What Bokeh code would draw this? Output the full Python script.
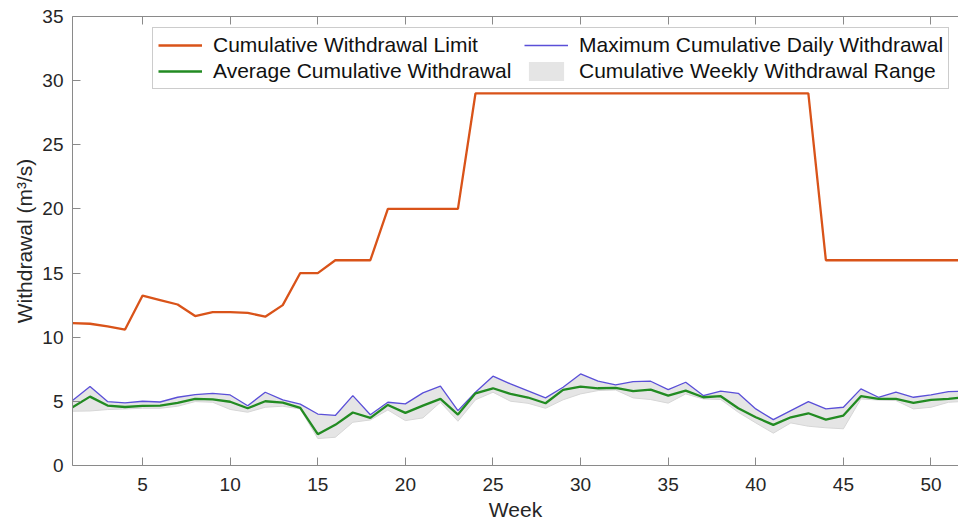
from bokeh.plotting import figure
from bokeh.models import FixedTicker, LinearAxis, Legend, LegendItem, Range1d
from bokeh.embed import file_html
from bokeh.resources import INLINE

weeks = list(range(1, 53))
limit = [11.1, 11.05, 10.85, 10.6, 13.25, 12.9, 12.55, 11.65, 11.95, 11.95,
         11.9, 11.6, 12.5, 15.0, 15.0, 16.0, 16.0, 16.0, 20.0, 20.0,
         20.0, 20.0, 20.0, 29.0, 29.0, 29.0, 29.0, 29.0, 29.0, 29.0,
         29.0, 29.0, 29.0, 29.0, 29.0, 29.0, 29.0, 29.0, 29.0, 29.0,
         29.0, 29.0, 29.0, 16.0, 16.0, 16.0, 16.0, 16.0, 16.0, 16.0,
         16.0, 16.0]
max_daily = [5.06, 6.15, 4.98, 4.88, 5.01, 4.95, 5.32, 5.53, 5.63, 5.5,
             4.66, 5.71, 5.11, 4.78, 4.01, 3.9, 5.45, 3.96, 4.93, 4.8,
             5.66, 6.18, 4.28, 5.71, 6.96, 6.36, 5.82, 5.27, 6.1, 7.14,
             6.57, 6.28, 6.54, 6.57, 5.92, 6.49, 5.45, 5.79, 5.63, 4.41,
             3.58, 4.28, 4.98, 4.41, 4.54, 5.97, 5.32, 5.71, 5.32, 5.5,
             5.76, 5.8]
average = [4.54, 5.37, 4.67, 4.56, 4.65, 4.67, 4.88, 5.19, 5.16, 4.97,
           4.46, 5.01, 4.9, 4.49, 2.44, 3.17, 4.13, 3.71, 4.72, 4.1,
           4.67, 5.19, 3.97, 5.63, 6.02, 5.58, 5.3, 4.85, 5.89, 6.15,
           6.02, 6.05, 5.79, 5.92, 5.45, 5.84, 5.32, 5.4, 4.46, 3.76,
           3.17, 3.76, 4.07, 3.58, 3.89, 5.4, 5.19, 5.19, 4.88, 5.12,
           5.19, 5.33]
range_low = [4.23, 4.25, 4.36, 4.41, 4.46, 4.46, 4.62, 4.98, 4.93, 4.37,
             4.15, 4.54, 4.62, 4.41, 2.1, 2.2, 3.37, 3.55, 4.33, 3.5,
             3.71, 4.93, 3.45, 5.12, 5.71, 5.01, 4.85, 4.46, 5.12, 5.58,
             5.84, 5.89, 5.27, 5.14, 4.86, 5.58, 5.19, 5.14, 4.15, 3.32,
             2.52, 3.32, 3.06, 2.94, 2.86, 5.19, 5.1, 5.06, 4.41, 4.54,
             4.93, 5.0]
x_ticks = [5, 10, 15, 20, 25, 30, 35, 40, 45, 50]
y_ticks = [0, 5, 10, 15, 20, 25, 30, 35]

FONT = "Liberation Sans"
AXIS_COL = "#8a8a8a"
TEXT_COL = "#262626"

p = figure(width=958, height=523, output_backend="svg", toolbar_location=None,
           x_range=Range1d(1, 51.57), y_range=Range1d(0, 35),
           min_border_left=72, min_border_right=0, min_border_top=16,
           min_border_bottom=58)
p.outline_line_color = None
p.grid.visible = False
p.background_fill_color = "white"

band = p.varea(x=weeks, y1=range_low, y2=max_daily, fill_color="#e5e5e5")
p.line(weeks, range_low, line_color="#d6d6d6", line_width=1)
r_max = p.line(weeks, max_daily, line_color="#5a4fd8", line_width=1.3)
r_avg = p.line(weeks, average, line_color="#228b22", line_width=2.3)
r_lim = p.line(weeks, limit, line_color="#d95319", line_width=2.3)

for ax, ticks in ((p.xaxis[0], x_ticks), (p.yaxis[0], y_ticks)):
    ax.ticker = FixedTicker(ticks=ticks)
    ax.axis_line_color = AXIS_COL
    ax.major_tick_line_color = AXIS_COL
    ax.major_tick_in = 8
    ax.major_tick_out = 0
    ax.minor_tick_line_color = None
    ax.major_label_text_font = FONT
    ax.major_label_text_font_size = "19px"
    ax.major_label_text_color = TEXT_COL
    ax.axis_label_text_font = FONT
    ax.axis_label_text_font_size = "21px"
    ax.axis_label_text_font_style = "normal"
    ax.axis_label_text_color = TEXT_COL

p.xaxis.axis_label = "Week"
p.xaxis.major_label_standoff = 12
p.xaxis.axis_label_standoff = 4
p.yaxis.axis_label = "Withdrawal (m³/s)"
p.yaxis.major_label_standoff = 9
p.yaxis.axis_label_standoff = 3

top = LinearAxis(ticker=FixedTicker(ticks=x_ticks), axis_line_color=AXIS_COL,
                 major_tick_line_color=AXIS_COL, major_tick_in=8, major_tick_out=0,
                 minor_tick_line_color=None,
                 major_label_overrides={t: "" for t in x_ticks},
                 major_label_standoff=0)
p.add_layout(top, "above")

legend = Legend(items=[
    LegendItem(label="Cumulative Withdrawal Limit", renderers=[r_lim]),
    LegendItem(label="Average Cumulative Withdrawal", renderers=[r_avg]),
    LegendItem(label="Maximum Cumulative Daily Withdrawal", renderers=[r_max]),
    LegendItem(label="Cumulative Weekly Withdrawal Range", renderers=[band]),
], location=(80, 376), ncols=2, orientation="vertical")
legend.label_text_font = FONT
legend.label_text_font_size = "21px"
legend.label_text_color = "#111111"
legend.label_height = 24
legend.label_width = 309
legend.glyph_width = 44
legend.glyph_height = 24
legend.label_standoff = 11
legend.spacing = 2
legend.padding = 5
legend.margin = 0
legend.border_line_color = "#9a9a9a"
legend.border_line_width = 1
legend.background_fill_alpha = 1
p.add_layout(legend, "center")

open("out.html", "w").write(file_html(p, INLINE))
